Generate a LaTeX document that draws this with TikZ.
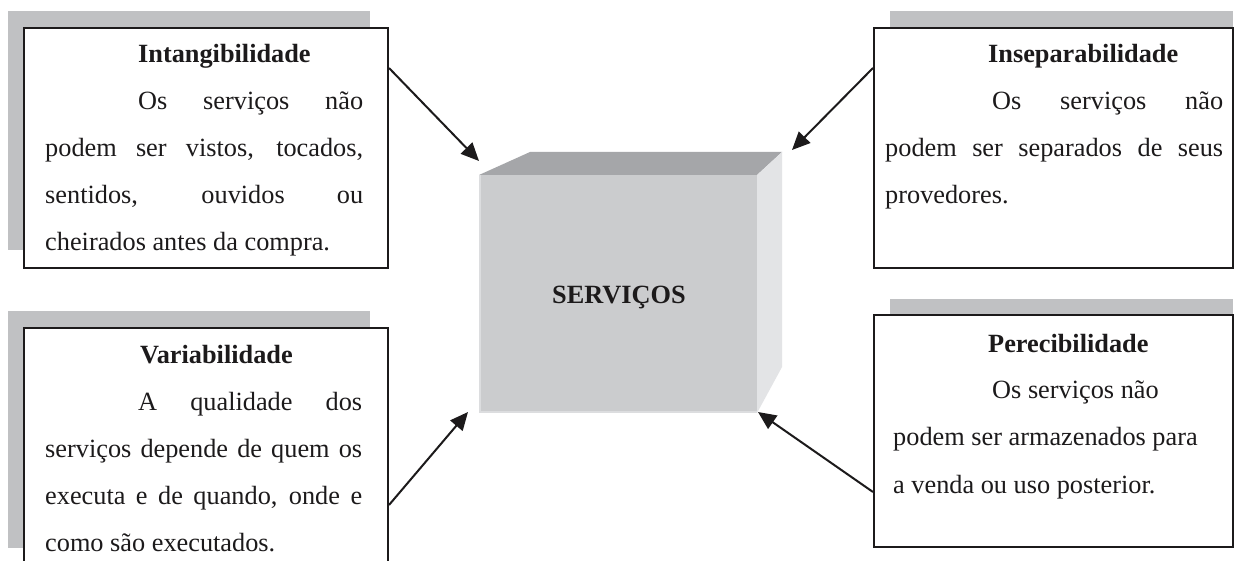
\documentclass[tikz,border=0pt]{standalone}
\usepackage{fontspec}
\setmainfont{Liberation Serif}
\usetikzlibrary{arrows.meta}
\definecolor{ink}{HTML}{1C1A1B}
\definecolor{shade}{HTML}{C0C1C3}
\definecolor{cubefront}{HTML}{CBCCCE}
\definecolor{cubetop}{HTML}{A5A6A9}
\definecolor{cubeside}{HTML}{E3E4E6}
\definecolor{cubeedge}{HTML}{DCDDDF}
\begin{document}
\begin{tikzpicture}[x=1pt,y=-1pt,
  shadowbox/.style={fill=shade, draw=none},
  infobox/.style={draw=ink, line width=2pt, fill=white, rectangle, inner sep=0pt, anchor=north west},
  txt/.style={inner sep=0pt, anchor=base west, text=ink, font=\fontsize{26.3}{30}\selectfont},
  ttl/.style={inner sep=0pt, anchor=base west, text=ink, font=\fontsize{26.3}{30}\selectfont\bfseries},
  link/.style={draw=ink, line width=2pt, -{Triangle[length=18pt,width=16pt]}}
]
\useasboundingbox (0,0) rectangle (1236,561);
\clip (0,0) rectangle (1236,561);
\fill[white] (0,0) rectangle (1236,561);

% shadows
\path[shadowbox] (8,11) rectangle (370,250);
\path[shadowbox] (890,11) rectangle (1233,250);
\path[shadowbox] (8,311) rectangle (370,548);
\path[shadowbox] (890,299) rectangle (1233,540);

% boxes
\node[infobox, minimum width=364pt, minimum height=240pt] (tl) at (23,27) {};
\node[infobox, minimum width=359pt, minimum height=240pt] (tr) at (873,27) {};
\node[infobox, minimum width=364pt, minimum height=240pt] (bl) at (23,327) {};
\node[infobox, minimum width=359pt, minimum height=232pt] (br) at (873,314) {};

% cube
\coordinate (fa) at (479,175);
\coordinate (fb) at (757,175);
\coordinate (fc) at (757,413);
\coordinate (fd) at (479,413);
\coordinate (ba) at (530,152);
\coordinate (bb) at (782,152);
\coordinate (bc) at (782,367);
\fill[cubefront] (fa) -- (fb) -- (fc) -- (fd) -- cycle;
\fill[cubetop] (fa) -- (ba) -- (bb) -- (fb) -- cycle;
\fill[cubeside] (fb) -- (bb) -- (bc) -- (fc) -- cycle;
\draw[cubeedge, line width=1.5pt] ([xshift=1pt]fa) -- ([xshift=1pt,yshift=1pt]fd) -- ([yshift=1pt]fc);
\node[inner sep=0pt, anchor=base, text=ink, font=\fontsize{26.3}{30}\selectfont\bfseries] (serv) at (619,303) {SERVIÇOS};

% texts: top left
\node[ttl] (tlt) at (138,63) {Intangibilidade};
\node[txt] (tl1) at (138,110) {\makebox[225pt][s]{Os serviços não}};
\node[txt] (tl2) at (45,157) {\makebox[318pt][s]{podem ser vistos, tocados,}};
\node[txt] (tl3) at (45,204) {\makebox[318pt][s]{sentidos, ouvidos ou}};
\node[txt] (tl4) at (45,251) {cheirados antes da compra.};

% top right
\node[ttl] (trt) at (988,63) {Inseparabilidade};
\node[txt] (tr1) at (992,110) {\makebox[231pt][s]{Os serviços não}};
\node[txt] (tr2) at (885,157) {\makebox[338pt][s]{podem ser separados de seus}};
\node[txt] (tr3) at (885,204) {provedores.};

% bottom left
\node[ttl] (blt) at (140,363) {Variabilidade};
\node[txt] (bl1) at (138,410) {\makebox[224pt][s]{A qualidade dos}};
\node[txt] (bl2) at (45,457) {\makebox[317pt][s]{serviços depende de quem os}};
\node[txt] (bl3) at (45,504) {\makebox[317pt][s]{executa e de quando, onde e}};
\node[txt] (bl4) at (45,551) {como são executados.};

% bottom right
\node[ttl] (brt) at (988,352) {Perecibilidade};
\node[txt] (br1) at (992,398) {Os serviços não};
\node[txt] (br2) at (893,445) {podem ser armazenados para};
\node[txt] (br3) at (893,493) {a venda ou uso posterior.};

% arrow endpoints
\path (tl.north east) ++(0,41) coordinate (s1);
\path (tr.north west) ++(0,41) coordinate (s2);
\path (bl.north east) ++(0,178) coordinate (s3);
\path (br.north west) ++(0,178) coordinate (s4);
\coordinate (e1) at (479,161);
\coordinate (e2) at (792,150);
\coordinate (e3) at (468,412);
\coordinate (e4) at (758,412);
\draw[link] (s1) -- (e1);
\draw[link] (s2) -- (e2);
\draw[link] (s3) -- (e3);
\draw[link] (s4) -- (e4);
\end{tikzpicture}
\end{document}
